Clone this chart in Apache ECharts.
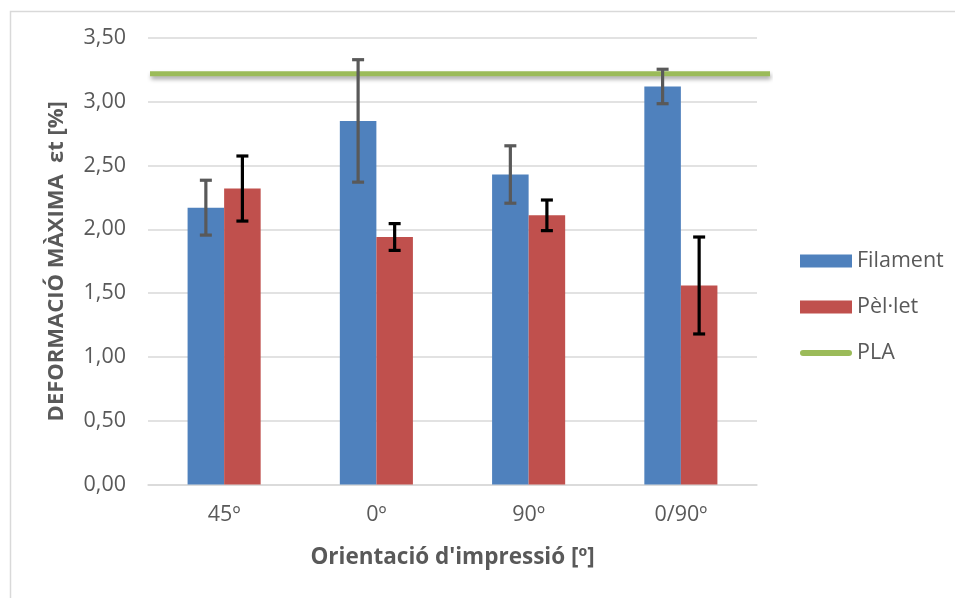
<!DOCTYPE html>
<html><head><meta charset="utf-8">
<script src="https://cdn.jsdelivr.net/npm/echarts@6/dist/echarts.min.js"></script>
<style>html,body{margin:0;padding:0;background:#fff}#c{width:955px;height:598px}</style>
</head><body><div id="c"></div>
<script>
const categories = ['45º', '0º', '90º', '0/90º'];
const filament = [2.17, 2.85, 2.43, 3.12];
const filamentErr = [0.215, 0.48, 0.225, 0.135];
const pellet = [2.32, 1.94, 2.11, 1.56];
const pelletErr = [0.255, 0.105, 0.12, 0.38];
const pla = [3.22];
const yTickLabels = ['0,00', '0,50', '1,00', '1,50', '2,00', '2,50', '3,00', '3,50'];

const GAP = 0.52;
const FONT = '"Open Sans", "Noto Sans", sans-serif';
const TXT = '#595959';

function errRenderer(side, color) {
  return function (params, api) {
    const idx = api.value(0), mean = api.value(1), err = api.value(2);
    const c = api.coord([idx, mean]);
    const band = api.size([1, 0])[0];
    const bw = band * (1 - GAP) / 2;
    const x = c[0] + side * bw / 2;
    const top = api.coord([idx, mean + err])[1];
    const bot = api.coord([idx, mean - err])[1];
    const hw = 6;
    const st = { stroke: color, lineWidth: 3.2 };
    return {
      type: 'group', children: [
        { type: 'line', shape: { x1: x, y1: top, x2: x, y2: bot }, style: st },
        { type: 'line', shape: { x1: x - hw, y1: top, x2: x + hw, y2: top }, style: st },
        { type: 'line', shape: { x1: x - hw, y1: bot, x2: x + hw, y2: bot }, style: st }
      ]
    };
  };
}

const chart = echarts.init(document.getElementById('c'), null, { renderer: 'canvas' });
chart.setOption({
  animation: false,
  backgroundColor: '#fff',
  textStyle: { fontFamily: FONT },
  graphic: [{
    type: 'rect', left: 8, top: 9, z: -10,
    shape: { x: 0.5, y: 0.5, width: 1100, height: 800 },
    style: { fill: 'none', stroke: '#d9d9d9', lineWidth: 1.5 }
  }],
  grid: [
    { left: 148, right: 198, top: 38, bottom: 113.5 },
    { left: 150, right: 185, top: 38, bottom: 113.5 }
  ],
  legend: {
    orient: 'vertical', left: 795, top: 245,
    itemWidth: 52, itemHeight: 13, itemGap: 24,
    textStyle: { fontFamily: FONT, fontSize: 21.5, color: TXT },
    data: [
      { name: 'Filament', icon: 'rect' },
      { name: 'Pèl·let', icon: 'rect' },
      { name: 'PLA', icon: 'path://M3,0 L49,0 A3,3 0 0 1 49,6 L3,6 A3,3 0 0 1 3,0 Z' }
    ]
  },
  xAxis: [{
    type: 'category', data: categories, gridIndex: 0,
    axisLine: { lineStyle: { color: '#d9d9d9', width: 1.5 } },
    axisTick: { show: false },
    axisLabel: { color: TXT, fontSize: 21.5, fontFamily: FONT, margin: 19 },
    name: "Orientació d'impressió [º]", nameLocation: 'middle', nameGap: 62,
    nameTextStyle: { color: TXT, fontSize: 22.5, fontWeight: 'bold', fontFamily: FONT }
  }, {
    type: 'value', gridIndex: 1, min: 0, max: 1, show: false
  }],
  yAxis: [{
    type: 'value', gridIndex: 0, min: 0, max: 3.5, interval: 0.5,
    axisLine: { show: false }, axisTick: { show: false },
    splitLine: { lineStyle: { color: '#d9d9d9', width: 1.5 } },
    axisLabel: {
      color: TXT, fontSize: 21.5, fontFamily: FONT, margin: 22,
      formatter: (v) => yTickLabels[Math.round(v / 0.5)]
    },
    name: 'DEFORMACIÓ MÀXIMA  εt [%]', nameLocation: 'middle', nameGap: 80,
    nameTextStyle: { color: TXT, fontSize: 22, fontWeight: 'bold', fontFamily: FONT }
  }, {
    type: 'value', gridIndex: 1, min: 0, max: 3.5, show: false
  }],
  series: [
    {
      name: 'Filament', type: 'bar', data: filament, xAxisIndex: 0, yAxisIndex: 0,
      barGap: '0%', barCategoryGap: (GAP * 100) + '%',
      itemStyle: { color: '#4F81BD' }, z: 2
    },
    {
      name: 'Pèl·let', type: 'bar', data: pellet, xAxisIndex: 0, yAxisIndex: 0,
      barGap: '0%', barCategoryGap: (GAP * 100) + '%',
      itemStyle: { color: '#C0504D' }, z: 2
    },
    {
      name: 'PLA', type: 'line', xAxisIndex: 1, yAxisIndex: 1,
      data: [[0, pla[0]], [1, pla[0]]], symbol: 'none',
      lineStyle: { color: '#9BBB59', width: 5, shadowColor: 'rgba(0,0,0,0.35)', shadowBlur: 4, shadowOffsetY: 3, shadowOffsetX: 1 },
      itemStyle: { color: '#9BBB59' }, z: 3
    },
    {
      name: 'FilamentErr', type: 'custom', xAxisIndex: 0, yAxisIndex: 0, z: 5,
      renderItem: errRenderer(-1, '#595959'),
      data: categories.map((c, i) => [i, filament[i], filamentErr[i]])
    },
    {
      name: 'PelletErr', type: 'custom', xAxisIndex: 0, yAxisIndex: 0, z: 5,
      renderItem: errRenderer(1, '#000000'),
      data: categories.map((c, i) => [i, pellet[i], pelletErr[i]])
    }
  ]
});
</script></body></html>
